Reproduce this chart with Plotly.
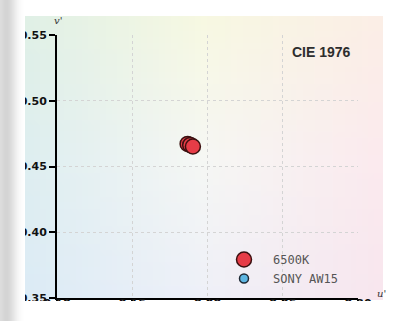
import base64
import struct
import zlib

import plotly.graph_objects as go


# chromaticity points (u', v')
d65_u = [0.1868, 0.1885, 0.1903]
d65_v = [0.4672, 0.4664, 0.4652]
sony_u = [0.1900]
sony_v = [0.4655]

x_ticks = [0.10, 0.15, 0.20, 0.25, 0.30]
x_labels = ["0.10", "0.15", "0.20", "0.25", "0.30"]
y_ticks = [0.35, 0.40, 0.45, 0.50, 0.55]
y_labels = ["0.35", "0.40", "0.45", "0.50", "0.55"]


def png_uri(rows):
    h = len(rows)
    w = len(rows[0])
    raw = b"".join(b"\x00" + bytes([c for px in row for c in px]) for row in rows)

    def chunk(tag, data):
        body = tag + data
        return struct.pack(">I", len(data)) + body + struct.pack(">I", zlib.crc32(body) & 0xFFFFFFFF)

    png = b"\x89PNG\r\n\x1a\n"
    png += chunk(b"IHDR", struct.pack(">IIBBBBB", w, h, 8, 2, 0, 0, 0))
    png += chunk(b"IDAT", zlib.compress(raw, 9))
    png += chunk(b"IEND", b"")
    return "data:image/png;base64," + base64.b64encode(png).decode()


def lerp(a, b, t):
    return tuple(round(a[i] + (b[i] - a[i]) * t) for i in range(3))


# faded diagram backdrop: 3x3 control colours, blended
ctrl = [
    [(224, 240, 230), (247, 248, 226), (251, 238, 230)],
    [(222, 238, 240), (246, 247, 244), (251, 234, 238)],
    [(220, 235, 246), (238, 240, 248), (248, 230, 238)],
]
bg_rows = []
W, H = 60, 48
for j in range(H):
    ty = j / (H - 1) * 2
    r0 = min(int(ty), 1)
    fy = ty - r0
    row = []
    for i in range(W):
        tx = i / (W - 1) * 2
        c0 = min(int(tx), 1)
        fx = tx - c0
        top = lerp(ctrl[r0][c0], ctrl[r0][c0 + 1], fx)
        bot = lerp(ctrl[r0 + 1][c0], ctrl[r0 + 1][c0 + 1], fx)
        row.append(lerp(top, bot, fy))
    bg_rows.append(row)

shade = [220, 216, 212, 212, 216, 222, 230, 238, 245, 250, 253, 255]
shadow_rows = [[(g, g, g) for g in shade]] * 4

# plot area spans pixels x 57..358, y 35..298
PW, PH = 301, 263


def px(x):
    return (x - 57) / PW


def py(y):
    return (298 - y) / PH


fig = go.Figure()
fig.add_trace(
    go.Scatter(
        x=sony_u,
        y=sony_v,
        mode="markers",
        name="SONY AW15",
        legendrank=2,
        marker=dict(size=9, color="#5db6e2", line=dict(color="#1f2a35", width=1.5)),
    )
)
fig.add_trace(
    go.Scatter(
        x=d65_u,
        y=d65_v,
        mode="markers",
        name="6500K",
        legendrank=1,
        marker=dict(size=15, color="#e63c47", line=dict(color="#3a1010", width=1.5)),
    )
)

axis_font = dict(family="DejaVu Sans", size=11, color="#111111", weight="bold")
common = dict(
    tickfont=axis_font,
    showline=True,
    linecolor="black",
    linewidth=2,
    ticks="outside",
    tickwidth=2,
    tickcolor="black",
    showgrid=True,
    gridcolor="#d4d4d4",
    griddash="dot",
    gridwidth=1,
    zeroline=False,
    fixedrange=True,
)
fig.update_xaxes(range=[0.10, 0.30], tickvals=x_ticks, ticktext=x_labels,
                 ticklen=4, ticklabelstandoff=-10, **common)
fig.update_yaxes(range=[0.35, 0.55], tickvals=y_ticks, ticktext=y_labels,
                 ticklen=6, **common)

fig.add_layout_image(
    source=png_uri(bg_rows),
    xref="paper", yref="paper",
    x=px(25), y=py(16),
    sizex=(383 - 25) / PW, sizey=(300 - 16) / PH,
    sizing="stretch", layer="below", xanchor="left", yanchor="top",
)
fig.add_layout_image(
    source=png_uri(shadow_rows),
    xref="paper", yref="paper",
    x=px(0), y=py(0),
    sizex=25 / PW, sizey=321 / PH,
    sizing="stretch", layer="above", xanchor="left", yanchor="top",
)
# picture is cut off just under the x axis
fig.add_shape(
    type="rect", xref="paper", yref="paper",
    x0=px(25), x1=px(394), y0=py(301), y1=py(321),
    fillcolor="white", line_width=0, layer="above",
)

fig.add_annotation(
    text="CIE 1976", xref="paper", yref="paper", x=px(321), y=py(52),
    xanchor="center", yanchor="middle", showarrow=False,
    font=dict(family="Liberation Sans", size=14, color="#2e2e2e", weight="bold"),
)
fig.add_annotation(
    text="<i>v'</i>", xref="paper", yref="paper", x=px(58), y=py(20),
    xanchor="center", yanchor="middle", showarrow=False,
    font=dict(family="DejaVu Serif", size=10, color="#333333"),
)
fig.add_annotation(
    text="<i>u'</i>", xref="paper", yref="paper", x=px(381), y=py(293),
    xanchor="center", yanchor="middle", showarrow=False,
    font=dict(family="DejaVu Serif", size=10, color="#333333"),
)

fig.update_layout(
    width=394,
    height=321,
    margin=dict(l=57, r=36, t=35, b=23),
    paper_bgcolor="white",
    plot_bgcolor="rgba(0,0,0,0)",
    showlegend=True,
    legend=dict(
        x=px(215), y=py(245), xanchor="left", yanchor="top",
        bgcolor="rgba(0,0,0,0)",
        font=dict(family="DejaVu Sans Mono", size=12, color="#555555"),
        itemwidth=48,
        tracegroupgap=0,
        itemclick=False,
    ),
)

fig.write_html(
    "out.html",
    config={"displayModeBar": False},
    post_script="document.body.style.margin='0';",
)
